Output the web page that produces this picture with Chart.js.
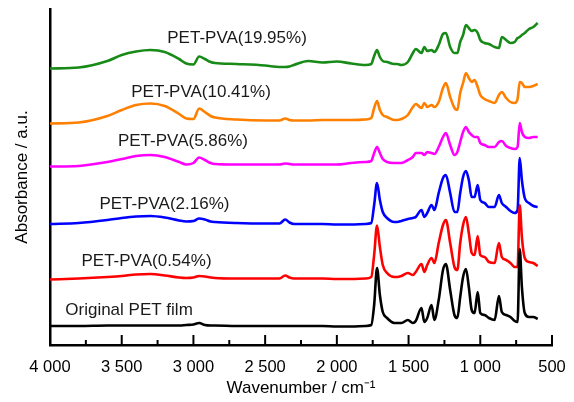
<!DOCTYPE html>
<html>
<head>
<meta charset="utf-8">
<script src="https://cdn.jsdelivr.net/npm/chart.js@4"></script>
<style>
  html, body { margin: 0; padding: 0; background: #fff; }
  #wrap { width: 574px; height: 402px; }
</style>
</head>
<body>
<div id="wrap"><canvas id="ftir"></canvas></div>
<script>
// wavenumbers (cm-1), shared by every spectrum
const wavenumbers = [4000, 3800, 3600, 3500, 3400, 3300, 3200, 3100, 3050, 3000,
  2960, 2920, 2880, 2850, 2700, 2500, 2400, 2360, 2330, 2300,
  2200, 2100, 2000, 1900, 1800, 1760, 1740, 1720, 1700, 1680,
  1650, 1600, 1580, 1550, 1505, 1470, 1450, 1410, 1390, 1370,
  1340, 1320, 1290, 1260, 1240, 1210, 1180, 1160, 1140, 1120,
  1100, 1080, 1060, 1040, 1018, 1000, 970, 940, 900, 870,
  850, 820, 790, 760, 740, 725, 710, 690, 660, 630, 600];

// stacked absorbance (arbitrary units, offsets included)
const originalPET = [19, 19, 19.5, 19.5, 19.5, 19.5, 19.5, 19.5, 20, 20.5,
  22, 20, 19.5, 19.5, 19, 19, 19, 19, 19, 19,
  19, 19, 18.5, 18.5, 19, 20, 40, 77, 50, 33,
  27, 22, 22, 22, 25, 22, 24, 37, 23, 27,
  40, 25, 45, 75, 81, 55, 30, 27, 48, 68,
  76, 58, 35, 32, 53, 32, 30, 27, 25, 49,
  33, 30, 28, 24, 23, 96, 58, 32, 28, 28, 26];
const pva054 = [65.5, 66.5, 68, 69, 70.5, 71, 69.5, 67.5, 67, 67.5,
  69, 68.5, 67.5, 67, 66.5, 66.5, 66.5, 69.5, 67.5, 66.5,
  66.5, 66.5, 66, 66, 66.5, 68, 90, 119.5, 98, 80,
  72, 68, 68, 69, 72, 70, 73, 81, 73, 80,
  87, 82, 102, 120, 125, 102, 78, 75, 102, 120,
  128, 112, 92, 90, 109, 90, 88, 83, 82, 102,
  88, 85, 82, 78, 78, 140, 108, 87, 83, 82, 79];
const pva216 = [121, 122, 125, 127, 128.5, 129, 127.5, 124.5, 123.5, 124,
  126.5, 125.5, 123.5, 123, 122, 121.5, 121.5, 125.5, 122.5, 121,
  121, 121, 120.5, 120.5, 121, 122, 140, 162, 145, 133,
  127, 123, 123, 124, 126, 127, 128, 135, 128, 132,
  140, 135, 152, 167, 170, 152, 133, 133, 152, 168,
  174, 165, 148, 148, 160, 145, 142, 138, 138, 150,
  142, 138, 134, 132, 135, 187, 165, 147, 142, 139, 138];
const pva586 = [178.5, 179, 183, 186, 189, 190, 188, 183, 180.5, 182,
  187.5, 185, 182, 181, 180.5, 180.5, 180.5, 181.5, 181, 180.5,
  180.5, 180.5, 180.5, 182, 183, 184, 192, 198, 192, 186,
  183, 182, 182, 182, 185, 188, 192, 192, 190, 193,
  192, 191, 198, 208, 212, 200, 190, 193, 203, 213,
  218, 213, 210, 208, 208, 202, 200, 198, 198, 203,
  204, 199, 197, 196, 198, 222, 213, 208, 207, 208, 208];
const pva1041 = [221.5, 222.5, 229, 235, 240, 241.5, 239, 231, 226.5, 226,
  236.5, 233, 229, 227.5, 225.5, 224.5, 224.5, 226.5, 225, 224.5,
  224.5, 225, 225, 225, 225.5, 227, 237, 244, 235, 230,
  228, 225, 225, 226, 230, 238, 241, 237, 242, 238,
  240, 238, 243, 257, 262, 248, 237, 235, 252, 262,
  272, 267, 263, 265, 258, 250, 246, 244, 242, 250,
  253, 247, 243, 242, 246, 263, 262, 258, 258, 259, 261];
const pva1995 = [276.5, 277.5, 284, 290, 293.5, 295, 293, 286, 281.5, 280.5,
  288.5, 286, 283, 282, 281, 279.5, 278, 278, 278.5, 280,
  284, 282.5, 283.5, 281.5, 280, 281, 289, 295, 288, 284,
  283, 281, 281, 280, 283, 292, 296, 292, 298, 294,
  295, 293, 300, 311, 312, 298, 292, 292, 303, 310,
  320, 317, 314, 315, 312, 305, 302, 301, 298, 297,
  308, 305, 302, 303, 307, 308, 310, 312, 316, 318, 322];

const seriesNames = ['Original PET film', 'PET-PVA(0.54%)', 'PET-PVA(2.16%)',
  'PET-PVA(5.86%)', 'PET-PVA(10.41%)', 'PET-PVA(19.95%)'];
const seriesValues = [originalPET, pva054, pva216, pva586, pva1041, pva1995];
const seriesColors = ['#000000', '#ff0000', '#0000ff', '#ff00ff', '#ff8000', '#178a17'];

// where each curve's name sits (wavenumber, absorbance)
const labelAt = [[3449, 35], [3327, 84], [3202, 141], [3073, 204], [2947, 252.5], [2696, 307]];

const FONT = '"Liberation Sans", Arial, sans-serif';
Chart.defaults.font.family = FONT;
Chart.defaults.color = '#000';

const fmtTick = (v) => {
  if (v % 500 !== 0) return '';
  if (v >= 1000) return Math.floor(v / 1000) + ' ' + String(v % 1000).padStart(3, '0');
  return String(v);
};

// inward ticks on the x axis, major every 500 and minor every 250
const innerTicks = {
  id: 'innerTicks',
  afterDraw(chart) {
    const { ctx, scales: { x } } = chart;
    const yAxis = chart.chartArea.bottom;
    ctx.save();
    ctx.strokeStyle = '#000';
    ctx.lineWidth = 2;
    x.ticks.forEach((t) => {
      if (t.value === 4000) return;
      const px = x.getPixelForValue(t.value);
      const len = t.value % 500 === 0 ? 10 : 5;
      ctx.beginPath();
      ctx.moveTo(px, yAxis);
      ctx.lineTo(px, yAxis - len);
      ctx.stroke();
    });
    ctx.restore();
  }
};

const curveNames = {
  id: 'curveNames',
  afterDatasetsDraw(chart) {
    const { ctx, scales: { x, y } } = chart;
    ctx.save();
    ctx.font = '17px ' + FONT;
    ctx.fillStyle = '#1a1a1a';
    ctx.textAlign = 'center';
    ctx.textBaseline = 'middle';
    seriesNames.forEach((name, i) => {
      ctx.fillText(name, x.getPixelForValue(labelAt[i][0]), y.getPixelForValue(labelAt[i][1]));
    });
    ctx.restore();
  }
};

new Chart(document.getElementById('ftir'), {
  type: 'line',
  data: {
    datasets: seriesValues.map((vals, i) => ({
      label: seriesNames[i],
      data: wavenumbers.map((w, j) => ({ x: w, y: vals[j] })),
      borderColor: seriesColors[i],
      borderWidth: 2.6,
      pointRadius: 0,
      cubicInterpolationMode: 'monotone',
      fill: false,
    })),
  },
  options: {
    responsive: true,
    maintainAspectRatio: false,
    animation: false,
    layout: { padding: { top: 9, right: 22, left: 0, bottom: 0 } },
    plugins: { legend: { display: false }, tooltip: { enabled: false } },
    scales: {
      x: {
        type: 'linear',
        reverse: true,
        min: 500,
        max: 4000,
        grid: { display: false },
        border: { display: true, color: '#000', width: 2.5 },
        ticks: {
          stepSize: 250,
          autoSkip: false,
          maxRotation: 0,
          padding: 5,
          font: { size: 16.5 },
          callback: (v) => fmtTick(v),
        },
        title: {
          display: true,
          text: 'Wavenumber / cm\u207B\u00B9',
          font: { size: 17 },
          padding: { top: 0, bottom: 3 },
        },
        afterFit: (s) => { s.height = 57; },
      },
      y: {
        min: 0,
        max: 336,
        grid: { display: false },
        border: { display: true, color: '#000', width: 2.5 },
        ticks: { display: false },
        title: {
          display: true,
          text: 'Absorbance / a.u.',
          font: { size: 17 },
          padding: { top: 12, bottom: 0 },
        },
        afterFit: (s) => { s.width = 50; },
      },
    },
  },
  plugins: [innerTicks, curveNames],
});
</script>
</body>
</html>
